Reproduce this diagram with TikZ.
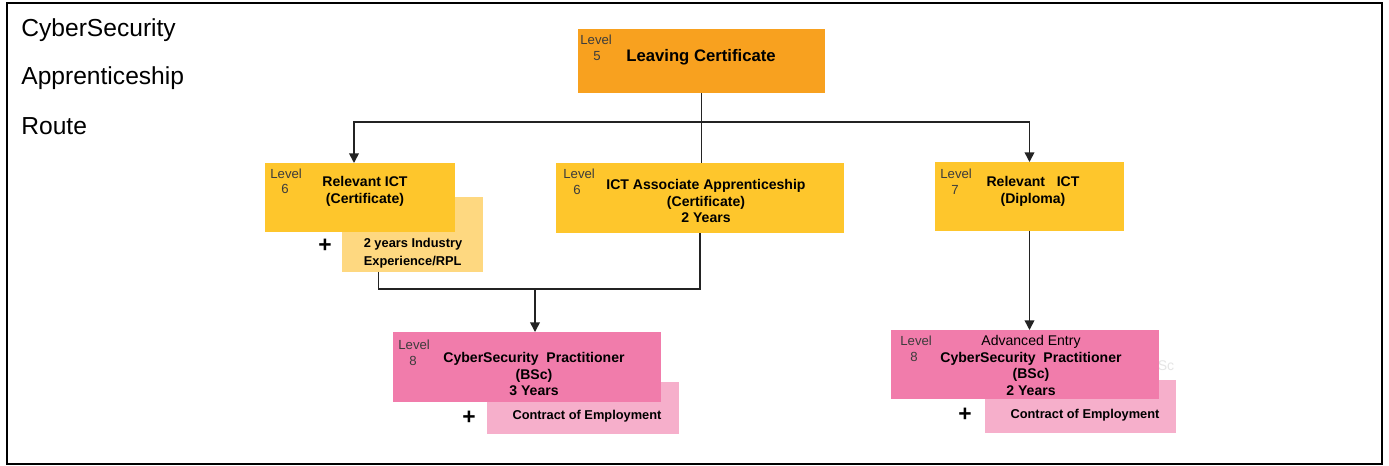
\documentclass[tikz,border=0pt]{standalone}
\usepackage{fontspec}
\setmainfont{Liberation Sans}
\usetikzlibrary{arrows.meta}

\definecolor{lcorange}{RGB}{248,161,31}
\definecolor{ictyellow}{RGB}{254,198,44}
\definecolor{paleyellow}{RGB}{254,216,128}
\definecolor{bscpink}{RGB}{241,124,171}
\definecolor{palepink}{RGB}{246,175,203}
\definecolor{levelgray}{RGB}{60,60,60}
\definecolor{linegray}{RGB}{35,35,35}

\begin{document}
\begin{tikzpicture}[x=0.02cm,y=-0.02cm,
	box/.style={inner sep=0pt,outer sep=0pt},
	head/.style={anchor=west,inner sep=0pt,font=\fontsize{14}{16}\selectfont},
	lvl/.style={font=\fontsize{7.5}{9}\selectfont,text=levelgray,inner sep=0pt},
	txt/.style={font=\fontsize{8}{9.6}\selectfont\bfseries,align=center,inner sep=0pt},
	plus/.style={font=\fontsize{13}{13}\selectfont\bfseries,inner sep=0pt},
	link/.style={draw=linegray,line width=0.9pt},
	arr/.style={link,-{Triangle[length=5.5pt,width=5.5pt]}}]
	    \fill[white] (0,0) rectangle (1389,466);
	    \useasboundingbox (0,0) rectangle (1389,466);
	    \draw[line width=1.2pt] (7,3) rectangle (1382,464);
	    % heading
	    \node[head] (head1) at (21,30) {CyberSecurity};
	    \node[head] (head2) at (21,78) {Apprenticeship};
	    \node[head] (head3) at (21,126) {Route};
	    % level 5
	    \node[box,fill=lcorange,minimum width=4.94cm,minimum height=1.28cm] (leave) at (701.5,61) {};
	    \node[lvl,anchor=west] at (580,40) {Level};
	    \node[lvl] at (597,56) {5};
	    \node[txt,font=\fontsize{9.5}{11}\selectfont\bfseries] (leave-t) at (701,57) {Leaving Certificate};
	    % level 6, certificate + experience
	    \node[box,fill=paleyellow,minimum width=2.82cm,minimum height=1.5cm] (industry) at (412.5,234.5) {};
	    \node[txt,align=left,font=\fontsize{7.3}{10}\selectfont\bfseries] (industry-t) at (413,253) {2 years Industry\\Experience/RPL};
	    \node[box,fill=ictyellow,minimum width=3.8cm,minimum height=1.38cm] (relcert) at (360,197.5) {};
	    \node[lvl,anchor=west] at (270,174) {Level};
	    \node[lvl] at (285,189) {6};
	    \node[txt] (relcert-t) at (365,191.5) {Relevant ICT\\(Certificate)};
	    \node[plus] (plus1) at (325,246) {+};
	    % level 6, apprenticeship
	    \node[box,fill=ictyellow,minimum width=5.76cm,minimum height=1.4cm] (assoc) at (700,198) {};
	    \node[lvl,anchor=west] at (563,174) {Level};
	    \node[lvl] at (577,190) {6};
	    \node[txt] (assoc-t) at (706,201) {ICT Associate Apprenticeship\\(Certificate)\\2 Years};
	    % level 7
	    \node[box,fill=ictyellow,minimum width=3.78cm,minimum height=1.38cm] (diploma) at (1029.5,196.5) {};
	    \node[lvl,anchor=west] at (940,174) {Level};
	    \node[lvl] at (955,190) {7};
	    \node[txt] (diploma-t) at (1033,191.5) {Relevant\ \ \ ICT\\(Diploma)};
	    % level 8, three years
	    \node[box,fill=palepink,minimum width=3.84cm,minimum height=1.04cm] (contract1) at (583,408) {};
	    \node[box,fill=bscpink,minimum width=5.36cm,minimum height=1.4cm] (prac1) at (527,367) {};
	    \node[lvl,anchor=west] at (398,345) {Level};
	    \node[lvl] at (413,361) {8};
	    \node[txt] (prac1-t) at (534,374) {CyberSecurity\ \ Practitioner\\(BSc)\\3 Years};
	    \node[txt,font=\fontsize{7.3}{9}\selectfont\bfseries] (contract1-t) at (587,416) {Contract of Employment};
	    \node[plus] (plus2) at (469,418) {+};
	    % level 8, advanced entry
	    \node[text=black!10,font=\fontsize{8}{9.6}\selectfont] (ghost) at (1166,366) {Sc};
	    \node[box,fill=palepink,minimum width=3.82cm,minimum height=1.06cm] (contract2) at (1080.5,406.5) {};
	    \node[box,fill=bscpink,minimum width=5.36cm,minimum height=1.38cm] (prac2) at (1025,364.5) {};
	    \node[lvl,anchor=west] at (900,341) {Level};
	    \node[lvl] at (914,357) {8};
	    \node[txt] (prac2-t) at (1031,365.5) {{\mdseries Advanced Entry}\\CyberSecurity\ \ Practitioner\\(BSc)\\2 Years};
	    \node[txt,font=\fontsize{7.3}{9}\selectfont\bfseries] (contract2-t) at (1085,415) {Contract of Employment};
	    \node[plus] (plus3) at (965,415) {+};
	    % connectors
	    \coordinate (fork) at (701,122);
	    \coordinate (join) at (535,289);
	    \draw[link] (leave.south) -- (leave.south |- assoc.north);
	    \draw[arr] (fork) -| ([xshift=-0.12cm]relcert.north);
	    \draw[arr] (fork) -| (diploma.north);
	    \draw[link] ([xshift=-0.68cm]industry.south) |- (join) -| (assoc.south);
	    \draw[arr] (join) -- (join |- prac1.north);
	    \draw[arr] (diploma.south) -- (diploma.south |- prac2.north);
	\end{tikzpicture}
\end{document}
